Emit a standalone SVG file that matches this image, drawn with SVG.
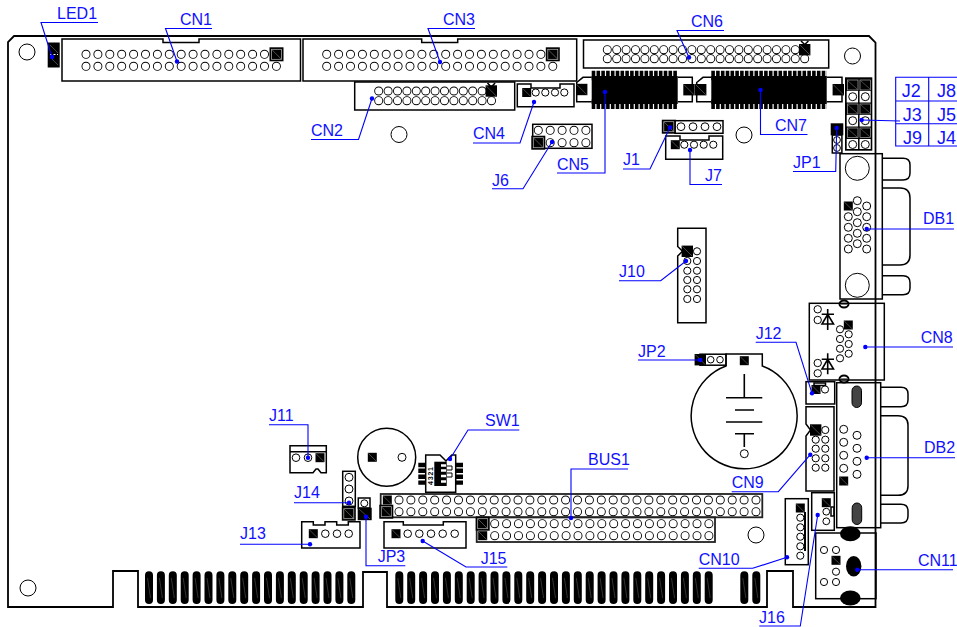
<svg xmlns="http://www.w3.org/2000/svg" width="957" height="627" viewBox="0 0 957 627">
<style>
text{font-family:"Liberation Sans",Arial,sans-serif;font-size:16px;fill:#1010ff}
.t{font-size:18px}
.o{fill:none;stroke:#000;stroke-width:1.5}
.b{fill:none;stroke:#000;stroke-width:1.8}
.p{fill:#fff;stroke:#000;stroke-width:1}
.h{fill:#fff;stroke:#000;stroke-width:1}
.k{fill:none;stroke:#000;stroke-width:9;stroke-linecap:round}
.w{fill:none;stroke:#fff;stroke-width:7.2;stroke-linecap:round}
.f{fill:#000;stroke:none}
.l{fill:none;stroke:#0000ff;stroke-width:1.1;marker-start:url(#dot)}
.n{fill:none;stroke:#0000ff;stroke-width:1.1}
.sym{fill:none;stroke:#000;stroke-width:1.6}
</style>
<defs>
<marker id="dot" markerUnits="userSpaceOnUse" markerWidth="6" markerHeight="6" refX="3" refY="3"><circle cx="3" cy="3" r="2.2" fill="#0000ff"/></marker>
<g id="s9"><rect x="-4.5" y="-4.5" width="9" height="9" fill="#000"/><path d="M-4 -4L4 4" stroke="#777" stroke-width=".6"/></g>
<g id="s11"><rect x="-5.7" y="-5.7" width="11.4" height="11.4" fill="#000"/><path d="M-5 -5L5 5" stroke="#777" stroke-width=".6"/></g>
<g id="s13"><rect x="-7" y="-7" width="14" height="14" fill="#000"/><rect x="-5" y="-5" width="10" height="10" fill="#000" stroke="#bbb" stroke-width=".7"/><path d="M-5 -5L5 5" stroke="#888" stroke-width=".6"/></g>
</defs>

<g id="board">
<path class="b" d="M14 36H869L875.5 42.5V607H793V571H767V607H387V572H363V607H138V571H113V607H8V42Z"/>
<circle class="h" cx="27" cy="52" r="8"/><circle class="h" cx="399" cy="134.5" r="8"/><circle class="h" cx="744" cy="135" r="8"/><circle class="h" cx="852.5" cy="56" r="8"/><circle class="h" cx="28" cy="588" r="8"/><circle class="h" cx="756" cy="535" r="8"/>
<path d="M149 575.3v24.7m11.9-24.7v24.7m11.9-24.7v24.7m11.9-24.7v24.7m11.9-24.7v24.7m11.9-24.7v24.7m11.9-24.7v24.7m11.9-24.7v24.7m11.9-24.7v24.7m11.9-24.7v24.7m11.9-24.7v24.7m11.9-24.7v24.7m11.9-24.7v24.7m11.9-24.7v24.7m11.9-24.7v24.7m11.9-24.7v24.7m11.9-24.7v24.7m11.9-24.7v24.7M399.3 575.3v24.7m11.9-24.7v24.7m11.9-24.7v24.7m11.9-24.7v24.7m11.9-24.7v24.7m11.9-24.7v24.7m11.9-24.7v24.7m11.9-24.7v24.7m11.9-24.7v24.7m11.9-24.7v24.7m11.9-24.7v24.7m11.9-24.7v24.7m11.9-24.7v24.7m11.9-24.7v24.7m11.9-24.7v24.7m11.9-24.7v24.7m11.9-24.7v24.7m11.9-24.7v24.7m11.9-24.7v24.7m11.9-24.7v24.7m11.9-24.7v24.7m11.9-24.7v24.7m11.9-24.7v24.7m11.9-24.7v24.7m11.9-24.7v24.7m11.9-24.7v24.7m11.9-24.7v24.7M744.3 575.3v24.7m12-24.7v24.7" fill="none" stroke="#000" stroke-width="8" stroke-linecap="round"/>
<path d="M147.5 578l3 20m8.9-20l3 20m8.9-20l3 20m8.9-20l3 20m8.9-20l3 20m8.9-20l3 20m8.9-20l3 20m8.9-20l3 20m8.9-20l3 20m8.9-20l3 20m8.9-20l3 20m8.9-20l3 20m8.9-20l3 20m8.9-20l3 20m8.9-20l3 20m8.9-20l3 20m8.9-20l3 20m8.9-20l3 20M397.8 578l3 20m8.9-20l3 20m8.9-20l3 20m8.9-20l3 20m8.9-20l3 20m8.9-20l3 20m8.9-20l3 20m8.9-20l3 20m8.9-20l3 20m8.9-20l3 20m8.9-20l3 20m8.9-20l3 20m8.9-20l3 20m8.9-20l3 20m8.9-20l3 20m8.9-20l3 20m8.9-20l3 20m8.9-20l3 20m8.9-20l3 20m8.9-20l3 20m8.9-20l3 20m8.9-20l3 20m8.9-20l3 20m8.9-20l3 20m8.9-20l3 20m8.9-20l3 20m8.9-20l3 20M742.8 578l3 20m9-20l3 20" fill="none" stroke="#666" stroke-width=".5"/>
</g>

<g id="LED1">
<rect x="47.7" y="42.5" width="12" height="25" fill="#000"/><path d="M50 45l8 8M50 57l8 8" stroke="#777" stroke-width=".6"/><path d="M50 54.5h8" stroke="#fff" stroke-width="1.2" stroke-dasharray="2 1.5"/>
<text x="57" y="19">LED1</text>
</g>
<g id="CN1">
<path class="o" d="M62 39H163V42.5H199V39H300.5V81H62Z"/>
<path class="k" stroke-dasharray="0 11.9" d="M86 54.3H264.6M86 66.3H276.5"/><path class="w" stroke-dasharray="0 11.9" d="M86 54.3H264.6M86 66.3H276.5"/>
<use href="#s13" x="276.5" y="54.3"/>
<text x="180" y="25">CN1</text>
</g>
<g id="CN3">
<path class="o" d="M303 39H421.7V42.5H457.7V39H576.7V81H303Z"/>
<path class="k" stroke-dasharray="0 11.9" d="M326.7 54.3H541M326.7 66.3H553"/><path class="w" stroke-dasharray="0 11.9" d="M326.7 54.3H541M326.7 66.3H553"/>
<use href="#s13" x="552.8" y="54.3"/>
<text x="443" y="25">CN3</text>
</g>
<g id="CN2">
<rect class="o" x="354.7" y="82" width="160" height="28"/>
<path class="k" stroke-dasharray="0 9.4" d="M378.7 91H482.2M378.7 100.7H491.6"/><path class="w" stroke-dasharray="0 9.4" d="M378.7 91H482.2M378.7 100.7H491.6"/>
<use href="#s11" x="491.3" y="91"/><path class="sym" d="M487.5 83l3.8 4 3.8-4"/>
<text x="311" y="136">CN2</text>
</g>
<g id="CN4">
<path class="o" d="M517.3 84H531V88H560V84H574V106.7H517.3Z"/>
<use href="#s9" x="526.7" y="92.5"/>
<circle class="p" cx="535.7" cy="92.5" r="3.6"/><circle class="p" cx="545.3" cy="92.5" r="3.6"/><circle class="p" cx="555" cy="92.5" r="3.6"/><circle class="p" cx="564.3" cy="92.5" r="3.6"/>
<text x="473" y="139">CN4</text>
</g>
<g id="J6">
<rect class="o" x="532.7" y="124.3" width="59.3" height="24"/>
<path class="k" stroke-dasharray="0 11.9" d="M538.3 130.3H586M550.2 142.7H586"/><path class="w" stroke-dasharray="0 11.9" d="M538.3 130.3H586M550.2 142.7H586"/>
<use href="#s13" x="538.3" y="142.7"/>
<text x="492" y="186">J6</text>
</g>
<g id="CN5">
<rect class="f" x="591.7" y="76" width="86" height="28"/>
<path fill="none" stroke="#000" stroke-width="9.5" stroke-dasharray="3.6 1.2" d="M591.7 75.5H677.7M591.7 104.3H677.7"/>
<path class="o" d="M591.7 77.3H583L576.7 82.5V101.7H591.7M677.7 77.3H692.3V101.7H677.7"/>
<use href="#s11" x="581.7" y="89.5"/><use href="#s11" x="689" y="89.7"/>
<text x="557" y="170">CN5</text>
</g>
<g id="CN6">
<rect class="o" x="583.5" y="40" width="245.2" height="28"/>
<path class="k" stroke-dasharray="0 9.4" d="M607.3 49.7H795.4M607.3 58.7H804.8"/><path class="w" stroke-dasharray="0 9.4" d="M607.3 49.7H795.4M607.3 58.7H804.8"/>
<use href="#s11" x="804.7" y="49.7"/><path class="sym" d="M801 41l3.7 3.5 3.7-3.5"/>
<text x="691" y="27">CN6</text>
</g>
<g id="CN7">
<rect class="f" x="711.3" y="76" width="115.4" height="28"/>
<path fill="none" stroke="#000" stroke-width="9.5" stroke-dasharray="3.6 1.2" d="M711.3 75.5H826.7M711.3 104.3H826.7"/>
<path class="o" d="M711.3 77.3H703L696.7 82.5V101.7H711.3M826.7 77.3H842V101.7H826.7"/>
<use href="#s11" x="700.7" y="89.7"/><use href="#s11" x="838.3" y="89.7"/>
<text x="775" y="131">CN7</text>
</g>
<g id="J1">
<rect class="o" x="675" y="120.7" width="48" height="12.6"/>
<use href="#s13" x="668.8" y="126.7"/>
<circle class="p" cx="681" cy="126.7" r="3.9"/><circle class="p" cx="693" cy="126.7" r="3.9"/><circle class="p" cx="705" cy="126.7" r="3.9"/><circle class="p" cx="717" cy="126.7" r="3.9"/>
<text x="623" y="165">J1</text>
</g>
<g id="J7">
<path class="o" d="M665.7 136H680V140H709V136H722.7V159.3H665.7Z"/>
<use href="#s9" x="675.3" y="144.7"/>
<circle class="p" cx="684.3" cy="144.7" r="3.6"/><circle class="p" cx="694" cy="144.7" r="3.6"/><circle class="p" cx="703.7" cy="144.7" r="3.6"/><circle class="p" cx="713.3" cy="144.7" r="3.6"/>
<text x="705" y="181">J7</text>
</g>
<g id="JUMPERS">
<rect x="845" y="77.3" width="27.3" height="73.4" fill="#000"/>
<rect x="846.7" y="91" width="24" height="11.5" fill="#fff"/><rect x="846.7" y="115" width="24" height="11.5" fill="#fff"/><rect x="846.7" y="139" width="24" height="10" fill="#fff"/>
<path d="M858.8 78v71" stroke="#000" stroke-width="1.5"/>
<g fill="#000" stroke="#aaa" stroke-width=".7"><rect x="847.5" y="80" width="10.5" height="10"/><rect x="860" y="80" width="10.5" height="10"/><rect x="847.5" y="104" width="10.5" height="10"/><rect x="860" y="104" width="10.5" height="10"/><rect x="847.5" y="128" width="10.5" height="9.5"/><rect x="860" y="128" width="10.5" height="9.5"/></g>
<path d="M848 81l9 8M861 81l9 8M848 105l9 8M861 105l9 8M848 129l9 8M861 129l9 8" stroke="#888" stroke-width=".5"/>
<circle class="p" cx="852.7" cy="96.7" r="4"/><circle class="p" cx="865.3" cy="96.7" r="4"/><circle class="p" cx="852.7" cy="120.7" r="4"/><circle class="p" cx="865.3" cy="120.7" r="4"/><circle class="p" cx="852.7" cy="144.5" r="4"/><circle class="p" cx="865.3" cy="144.5" r="4"/>
</g>
<g id="J-table">
<path class="n" d="M957 77.3H895.7V146H957M895.7 101H957M895.7 123.7H957M928.7 77.3V146"/>
<text class="t" x="901.7" y="97">J2</text><text class="t" x="937" y="97">J8</text>
<text class="t" x="902.7" y="121">J3</text><text class="t" x="937" y="121">J5</text>
<text class="t" x="903" y="143.5">J9</text><text class="t" x="937" y="143.5">J4</text>
</g>
<g id="JP1">
<rect class="o" x="832.3" y="135" width="9.6" height="18"/>
<circle class="p" cx="837" cy="140" r="3.4"/><circle class="p" cx="837" cy="148" r="3.4"/>
<rect class="f" x="830.7" y="123.3" width="12.6" height="12"/>
<text x="793" y="168">JP1</text>
</g>
<g id="DB1">
<rect class="o" x="840" y="153.7" width="42.3" height="145.3"/>
<path class="o" d="M882.3 158.3H903Q910 158.3 910 165V173Q910 180 903 180H882.3M882.3 188H900Q910 188 910 198V255Q910 265 900 265H882.3M882.3 275.7H903Q910 275.7 910 282.5V288Q910 294.7 903 294.7H882.3"/>
<circle class="h" cx="857.3" cy="168.3" r="12"/><circle class="h" cx="857.3" cy="285.3" r="12"/>
<circle class="p" cx="848.3" cy="216.7" r="4"/><circle class="p" cx="848.3" cy="227.3" r="4"/><circle class="p" cx="848.3" cy="238.3" r="4"/><circle class="p" cx="848.3" cy="249" r="4"/>
<circle class="p" cx="857.3" cy="200.7" r="4"/><circle class="p" cx="857.3" cy="211.7" r="4"/><circle class="p" cx="857.3" cy="222.7" r="4"/><circle class="p" cx="857.3" cy="233.3" r="4"/><circle class="p" cx="857.3" cy="243.7" r="4"/>
<circle class="p" cx="866.7" cy="206" r="4"/><circle class="p" cx="866.7" cy="216.7" r="4"/><circle class="p" cx="866.7" cy="227.3" r="4"/><circle class="p" cx="866.7" cy="238.3" r="4"/><circle class="p" cx="866.7" cy="249" r="4"/>
<use href="#s9" x="848.3" y="206"/>
<text x="923" y="224">DB1</text>
</g>
<g id="CN8">
<rect class="o" x="809.3" y="303.3" width="75" height="76.7"/>
<g fill="none" stroke="#000" stroke-width="2"><ellipse cx="844" cy="304" rx="4.5" ry="3.5"/><ellipse cx="844" cy="379" rx="4.5" ry="3.5"/></g>
<path d="M841 304h6M841 379h6" stroke="#000" stroke-width="1"/>
<circle class="p" cx="817.7" cy="309.3" r="3.7"/><circle class="p" cx="817.7" cy="320" r="3.7"/><circle class="p" cx="817.7" cy="363" r="3.7"/><circle class="p" cx="817.7" cy="373.3" r="3.7"/>
<path class="sym" d="M827.7 309V330M821.7 314.3H834M827.7 314.3L822 324H833.5Z"/>
<path class="sym" d="M827.7 353.3V374.3M821.7 359.3H834M827.7 359.3L822 369H833.5Z"/>
<use href="#s9" x="848.3" y="325"/>
<circle class="p" cx="840" cy="329.3" r="3.6"/><circle class="p" cx="840" cy="339" r="3.6"/><circle class="p" cx="840" cy="348.7" r="3.6"/><circle class="p" cx="840" cy="358.3" r="3.6"/>
<circle class="p" cx="848.7" cy="334.3" r="3.6"/><circle class="p" cx="848.7" cy="344" r="3.6"/><circle class="p" cx="848.7" cy="353.7" r="3.6"/>
<text x="920.7" y="343">CN8</text>
</g>
<g id="J10">
<path class="o" d="M677.7 228.3H706V322.7H677.7V256L682.5 251.3L677.7 246.5Z"/>
<use href="#s11" x="687.3" y="251.3"/>
<circle class="p" cx="687.3" cy="261" r="3.6"/><circle class="p" cx="687.3" cy="270.7" r="3.6"/><circle class="p" cx="687.3" cy="280" r="3.6"/><circle class="p" cx="687.3" cy="289.3" r="3.6"/><circle class="p" cx="687.3" cy="299" r="3.6"/>
<circle class="p" cx="697" cy="251.3" r="3.6"/><circle class="p" cx="697" cy="261" r="3.6"/><circle class="p" cx="697" cy="270.7" r="3.6"/><circle class="p" cx="697" cy="280" r="3.6"/><circle class="p" cx="697" cy="289.3" r="3.6"/><circle class="p" cx="697" cy="299" r="3.6"/>
<text x="619" y="277">J10</text>
</g>
<g id="JP2">
<rect class="o" x="700" y="354.2" width="26" height="11"/>
<use href="#s11" x="700.3" y="359.7"/>
<circle class="p" cx="710.7" cy="359.7" r="3.3"/><circle class="p" cx="720" cy="359.7" r="3.3"/>
<text x="638" y="357">JP2</text>
</g>
<g id="BATTERY">
<path class="o" d="M726 366V354H762.3V366A53 53 0 1 1 726 366Z"/>
<use href="#s9" x="744.3" y="360.7"/>
<path class="sym" d="M744.3 374V397.7M726 397.7H762.3M735 410H754M726 422H762.3M735 433.7H754M744.3 433.7V447"/>
<circle class="p" cx="744.3" cy="453.7" r="4"/>
</g>
<g id="J12">
<rect class="o" x="806" y="381.7" width="28.7" height="22.3"/>
<rect class="o" x="814" y="383" width="11.5" height="2.5"/>
<use href="#s9" x="816" y="389.5"/><circle class="p" cx="825" cy="389.5" r="3.6"/>
<text x="755.7" y="339">J12</text>
</g>
<g id="DB2">
<rect class="o" x="836.7" y="382.7" width="44" height="145"/>
<path class="o" d="M880.7 387.3H901Q908 387.3 908 394V400Q908 406.7 901 406.7H880.7M880.7 415.7H898Q908 415.7 908 425V486Q908 495.3 898 495.3H880.7M880.7 504.3H901Q908 504.3 908 511V516Q908 523 901 523H880.7"/>
<rect x="852" y="386" width="9.5" height="21.5" rx="4.7" fill="#444" stroke="#000"/><rect x="852.2" y="503" width="9.5" height="21.5" rx="4.7" fill="#444" stroke="#000"/>
<circle class="p" cx="843.7" cy="429.3" r="4"/><circle class="p" cx="843.7" cy="442.3" r="4"/><circle class="p" cx="843.7" cy="455.3" r="4"/><circle class="p" cx="843.7" cy="468.3" r="4"/>
<circle class="p" cx="857" cy="435.3" r="4"/><circle class="p" cx="857" cy="448.3" r="4"/><circle class="p" cx="857" cy="461.3" r="4"/><circle class="p" cx="857" cy="474.3" r="4"/>
<use href="#s9" x="843.7" y="481"/>
<text x="924" y="453">DB2</text>
</g>
<g id="CN9">
<path class="o" d="M806 406.7H834V491H806V436L810.5 430L806 424Z"/>
<use href="#s11" x="815.7" y="430"/>
<circle class="p" cx="815.7" cy="439.7" r="3.6"/><circle class="p" cx="815.7" cy="448.7" r="3.6"/><circle class="p" cx="815.7" cy="458.3" r="3.6"/><circle class="p" cx="815.7" cy="467.7" r="3.6"/>
<circle class="p" cx="825.3" cy="430" r="3.6"/><circle class="p" cx="825.3" cy="439.7" r="3.6"/><circle class="p" cx="825.3" cy="448.7" r="3.6"/><circle class="p" cx="825.3" cy="458.3" r="3.6"/><circle class="p" cx="825.3" cy="467.7" r="3.6"/>
<text x="731.7" y="488">CN9</text>
</g>
<g id="J16">
<rect class="o" x="811.7" y="492.7" width="22.6" height="37.6"/>
<rect class="o" x="831" y="507" width="3" height="9"/>
<use href="#s9" x="826.3" y="502.7"/>
<circle class="p" cx="826.3" cy="511.7" r="3.4"/><circle class="p" cx="826.3" cy="521.3" r="3.4"/>
<text x="759" y="622.7">J16</text>
</g>
<g id="CN10">
<rect class="o" x="785.3" y="498.7" width="23" height="66"/>
<rect class="f" x="804" y="512" width="2" height="39"/>
<use href="#s9" x="800.3" y="508"/>
<circle class="p" cx="800.3" cy="517.7" r="3.6"/><circle class="p" cx="800.3" cy="527.3" r="3.6"/><circle class="p" cx="800.3" cy="536.7" r="3.6"/><circle class="p" cx="800.3" cy="546.3" r="3.6"/><circle class="p" cx="800.3" cy="555.7" r="3.6"/>
<text x="698.7" y="564.7">CN10</text>
</g>
<g id="CN11">
<rect class="o" x="815.7" y="533" width="60.3" height="65.7"/>
<ellipse class="f" cx="850.3" cy="533.7" rx="10.3" ry="7.5"/><ellipse class="f" cx="850.3" cy="598" rx="10.3" ry="7.5"/><ellipse class="f" cx="853.7" cy="566.3" rx="7.7" ry="10.3"/>
<circle class="p" cx="824" cy="550" r="3.6"/><circle class="p" cx="836" cy="550" r="3.6"/><use href="#s9" x="836" y="560.3"/><circle class="p" cx="836" cy="571.7" r="3.6"/><circle class="p" cx="824" cy="582" r="3.6"/><circle class="p" cx="836" cy="582" r="3.6"/>
<text x="918" y="565.7">CN11</text>
</g>
<g id="J11">
<path class="o" d="M290 445.7H326.3V472.7H321L318 469H316L313 472.7H290ZM290 451.7H326.3"/>
<circle class="p" cx="296" cy="457.7" r="3.8"/><circle class="p" cx="308" cy="457.7" r="3.8"/><use href="#s9" x="320" y="457.7"/>
<text x="269" y="421">J11</text>
</g>
<g id="SPEAKER">
<circle class="o" cx="386.7" cy="457.3" r="29"/>
<use href="#s9" x="372.3" y="457.3"/><circle class="p" cx="402" cy="457.3" r="4"/>
</g>
<g id="SW1">
<path d="M418.3 465H425.7M418.3 470.8H425.7M418.3 476.7H425.7M418.3 482.6H425.7M455.7 465H463M455.7 470.8H463M455.7 476.7H463M455.7 482.6H463" stroke="#000" stroke-width="4.4"/>
<path class="o" d="M425.7 455H440L446 461L451.7 455H455.7V492.3H425.7Z" style="fill:#fff"/>
<rect class="f" x="434.3" y="461.7" width="12.4" height="24.3"/>
<path d="M441 465.5h5M441 470.5h5M441 476h5M441 481.5h5" stroke="#fff" stroke-width="2.6"/>
<path d="M447 466h5v4h-5M447 473h5v4h-5" fill="none" stroke="#000" stroke-width="1"/>
<text transform="translate(432.5 485) rotate(-90)" style="font-size:7px;font-weight:bold;fill:#000;letter-spacing:.8px">4321</text>
<text x="485" y="426">SW1</text>
</g>
<g id="J14">
<rect class="o" x="342.7" y="471.3" width="12.6" height="35"/>
<circle class="p" cx="349" cy="477.3" r="4"/><circle class="p" cx="349" cy="489" r="4"/><circle class="p" cx="349" cy="501" r="4"/>
<use href="#s13" x="348.8" y="513.7"/>
<text x="294" y="498">J14</text>
</g>
<g id="JP3">
<rect class="o" x="358.3" y="498" width="11.7" height="10"/>
<circle class="p" cx="364.3" cy="503.3" r="3.5"/>
<rect class="f" x="357.7" y="507.7" width="14" height="12.5"/><path d="M359 509l11 10" stroke="#777" stroke-width=".6"/>
<text x="377.7" y="562.3">JP3</text>
</g>
<g id="J13">
<path class="o" d="M301.7 521.7H313.3V525H325V521.7H336.7V525H348.3V521.7H360V548H301.7Z"/>
<use href="#s9" x="313.3" y="533.7"/>
<circle class="p" cx="325.3" cy="533.7" r="3.8"/><circle class="p" cx="337" cy="533.7" r="3.8"/><circle class="p" cx="348.7" cy="533.7" r="3.8"/>
<text x="240" y="539.3">J13</text>
</g>
<g id="J15">
<path class="o" d="M384 521.7H403.3V525H443.3V521.7H466V548H384Z"/>
<use href="#s9" x="396" y="533.7"/>
<circle class="p" cx="407.7" cy="533.7" r="3.8"/><circle class="p" cx="419.3" cy="533.7" r="3.8"/><circle class="p" cx="431" cy="533.7" r="3.8"/><circle class="p" cx="442.7" cy="533.7" r="3.8"/><circle class="p" cx="454.7" cy="533.7" r="3.8"/>
<text x="480.7" y="564">J15</text>
</g>
<g id="BUS1">
<rect x="380.7" y="494" width="381.6" height="23.3" fill="none" stroke="#222" stroke-width="1.8"/>
<rect x="476.7" y="517.3" width="238.3" height="24.7" fill="none" stroke="#222" stroke-width="1.8"/>
<path class="k" stroke-dasharray="0 11.9" d="M399 500H756.1M399 511.7H756.1M494.7 523.7H708.9M494.7 535.7H708.9"/><path class="w" stroke-dasharray="0 11.9" d="M399 500H756.1M399 511.7H756.1M494.7 523.7H708.9M494.7 535.7H708.9"/>
<use href="#s9" x="387.3" y="500"/><use href="#s13" x="386.3" y="511.7"/><use href="#s13" x="482.7" y="523.7"/><use href="#s9" x="482.7" y="535.7"/>
<text x="588" y="465">BUS1</text>
</g>

<g id="connectors">
<polyline class="l" points="52,57 41,22.5 98,22.5"/>
<polyline class="l" points="177,61.5 165.5,28.5 212,28.5"/>
<polyline class="l" points="440,62 428,28.5 475,28.5"/>
<polyline class="l" points="372,98.5 358.5,139.5 311,139.5"/>
<polyline class="l" points="534,102 520,143 473,143"/>
<polyline class="l" points="552,142 523,188.7 492,188.7"/>
<polyline class="l" points="605,92 605,173 557,173"/>
<polyline class="l" points="670,127.5 650,169 623,169"/>
<polyline class="l" points="690,150 690,184.5 722,184.5"/>
<polyline class="l" points="689,57.5 677,30.5 724,30.5"/>
<polyline class="l" points="760.5,90 760.5,134.5 807.5,134.5"/>
<polyline class="l" points="861.7,120 900,121"/>
<polyline class="l" points="836.7,128 835.7,171.5 793,171.5"/>
<polyline class="l" points="866.7,229 954,229"/>
<polyline class="l" points="865.3,347 953,347"/>
<polyline class="l" points="686,261 660.7,280.7 619,280.7"/>
<polyline class="l" points="700.3,360 638,360"/>
<polyline class="l" points="812,393.3 796,342.3 755.7,342.3"/>
<polyline class="l" points="866.7,457.7 955,457.7"/>
<polyline class="l" points="810.3,454.7 778.3,491.7 731.7,491.7"/>
<polyline class="l" points="817.7,515 800.3,626 759.3,626"/>
<polyline class="l" points="787,557.3 752.7,568.3 698.7,568.3"/>
<polyline class="l" points="857.3,569.7 953,569.7"/>
<polyline class="l" points="308,457.7 308,424.7 269,424.7"/>
<polyline class="l" points="450,459 468,430 519.3,430"/>
<polyline class="l" points="349,502.7 294,502.7"/>
<polyline class="l" points="366,516.7 366,565.7 405.3,565.7"/>
<polyline class="l" points="310,544.3 240,544.3"/>
<polyline class="l" points="422.7,541 466,567 507.3,567"/>
<polyline class="l" points="571,518 571,469 628,469"/>
</g>
</svg>
